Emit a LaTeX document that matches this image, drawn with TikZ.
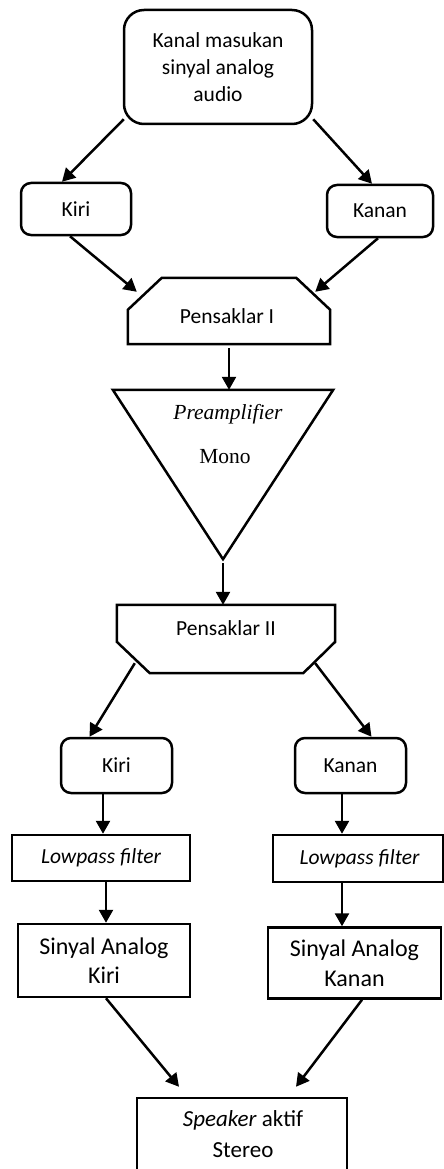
\documentclass[tikz,border=0pt]{standalone}
\usepackage{fontspec}
\setmainfont{Carlito}
\newfontfamily\serifrm{Liberation Serif}
\usetikzlibrary{arrows.meta,calc}
\begin{document}
\begin{tikzpicture}[x=1pt,y=-1pt,
  lw/.style={line width=2.5pt},
  arr/.style={lw,-{Triangle[length=13pt,width=14pt]}},
  rbox/.style={draw,lw,rounded corners=10pt,inner sep=0pt,font=\fontsize{21.5}{27}\selectfont},
  sbox/.style={draw,lw,inner sep=0pt,align=center},
  ghost/.style={draw=none,inner sep=0pt}
]
\useasboundingbox (0,0) rectangle (444,1169);
\clip (0,0) rectangle (444,1169);

% top box
\node[rbox,rounded corners=20pt,minimum width=188pt,minimum height=114pt,align=center] (top) at (218,67)
  {Kanal masukan\\sinyal analog\\audio};
\node[rbox,minimum width=110pt,minimum height=52pt] (kiri1) at (76,209) {Kiri};
\node[rbox,minimum width=106pt,minimum height=52pt] (kanan1) at (380,211) {Kanan};

% Pensaklar I
\node[ghost,minimum width=202pt,minimum height=66pt] (p1) at (229,311) {};
\draw[lw] (p1.south west) -- ($(p1.north west)+(0,32)$) -- ($(p1.north west)+(34,0)$)
  -- ($(p1.north east)+(-34,0)$) -- ($(p1.north east)+(0,32)$) -- (p1.south east) -- cycle;
\node[font=\fontsize{21.5}{27}\selectfont] (p1t) at (227,316) {Pensaklar I};

% triangle
\node[ghost,minimum width=220pt,minimum height=169pt] (tri) at (223,474.5) {};
\draw[lw,line join=miter] (tri.north west) -- (tri.north east) -- (tri.south) -- cycle;
\node[font=\serifrm\itshape\fontsize{21.5}{25}\selectfont] (pre) at (228,414) {Preamplifier};
\node[font=\serifrm\fontsize{21.5}{25}\selectfont] (mono) at (225,457) {Mono};

% Pensaklar II
\node[ghost,minimum width=218pt,minimum height=68pt] (p2) at (226,639) {};
\draw[lw] (p2.north west) -- ($(p2.north west)+(0,37)$) -- ($(p2.south west)+(33,0)$)
  -- ($(p2.south east)+(-32,0)$) -- ($(p2.north east)+(0,37)$) -- (p2.north east) -- cycle;
\node[font=\fontsize{21.5}{27}\selectfont] (p2t) at (226,628) {Pensaklar II};

\node[rbox,minimum width=111pt,minimum height=55pt] (kiri2) at (116.5,765.5) {Kiri};
\node[rbox,minimum width=111pt,minimum height=55pt] (kanan2) at (350.5,765.5) {Kanan};

\node[sbox,minimum width=178pt,minimum height=46pt,font=\itshape\fontsize{21.5}{27}\selectfont] (lp1) at (101,858) {Lowpass filter};
\node[sbox,minimum width=170pt,minimum height=47pt,font=\itshape\fontsize{21.5}{27}\selectfont] (lp2) at (358,858.5) {\hspace*{3pt}Lowpass filter};

\node[sbox,minimum width=172pt,minimum height=73pt,font=\fontsize{24}{29.5}\selectfont] (sa1) at (104,960.5) {Sinyal Analog\\Kiri};
\node[sbox,minimum width=173pt,minimum height=71pt,font=\fontsize{24}{30}\selectfont] (sa2) at (354.5,963) {Sinyal Analog\\Kanan};

\node[sbox,minimum width=210pt,minimum height=78pt] (spk) at (242,1137) {};
\node[font=\fontsize{23}{31}\selectfont,align=center] (spkt) at (243,1134) {\textit{Speaker} aktif\\Stereo};

% connectors
\draw[arr] ($(top.south west)+(1,-6)$) -- ($(kiri1.north)+(-14,0)$);
\draw[arr] ($(top.south east)+(0,-6)$) -- ($(kanan1.north)+(-8,0)$);
\draw[arr] ($(kiri1.south)+(-6,0)$) -- ($(p1.north west)+(9,14)$);
\draw[arr] ($(kanan1.south)+(-2,0)$) -- ($(p1.north east)+(-15,14)$);
\draw[arr] ($(p1.south)+(0,4)$) -- ($(tri.north)+(6,0)$);
\draw[arr] ($(tri.south)+(0,4)$) -- ($(p2.north)+(-3,0)$);
\draw[arr] ($(p2.south west)+(18,-10)$) -- ($(kiri2.north)+(-27,0)$);
\draw[arr] ($(p2.south east)+(-20,-10)$) -- ($(kanan2.north)+(21,0)$);
\draw[arr] ($(kiri2.south)+(-13.5,0)$) coordinate (s1) -- (s1 |- lp1.north);
\draw[arr] ($(kanan2.south)+(-8.5,0)$) coordinate (s2) -- (s2 |- lp2.north);
\draw[arr] ($(lp1.south)+(5,0)$) coordinate (s3) -- (s3 |- sa1.north);
\draw[arr] ($(lp2.south)+(-16,0)$) coordinate (s4) -- (s4 |- sa2.north);
\draw[arr] ($(sa1.south)+(2,0)$) -- ($(spk.north)+(-63,-10)$);
\draw[arr] ($(sa2.south)+(7.5,0)$) -- ($(spk.north)+(54,-10)$);
\end{tikzpicture}
\end{document}
